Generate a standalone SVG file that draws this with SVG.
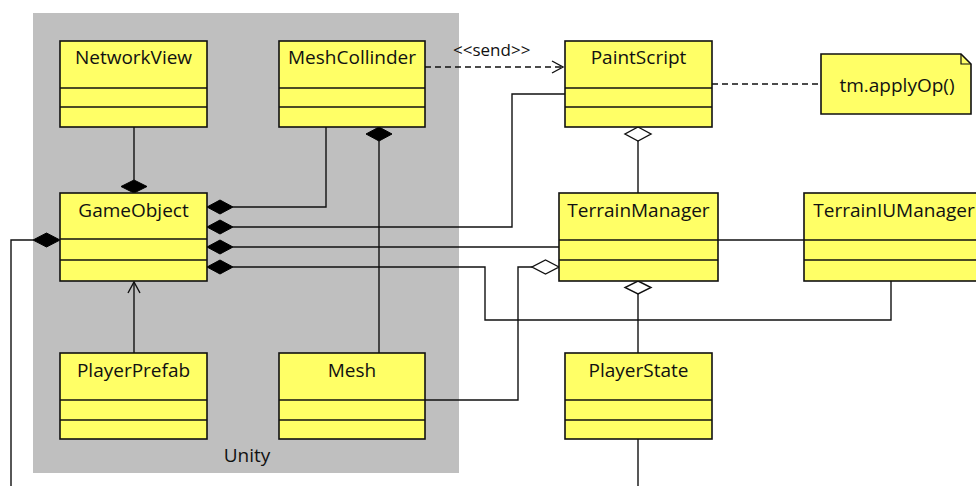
<svg xmlns="http://www.w3.org/2000/svg" width="976" height="486" viewBox="0 0 976 486">
  <style>
    .cls { fill: #FFFF66; stroke: #111; stroke-width: 1.6; }
    .div { stroke: #111; stroke-width: 1.6; }
    .name { font-family: "Open Sans", "Liberation Sans", sans-serif; font-size: 19px; fill: #111; text-anchor: middle; }
    .lbl { font-family: "Open Sans", "Liberation Sans", sans-serif; font-size: 17px; fill: #111; }
    .ln { fill: none; stroke: #111; stroke-width: 1.4; }
    .dash { fill: none; stroke: #111; stroke-width: 1.4; stroke-dasharray: 6 4; }
    .comp { fill: #000; stroke: #000; stroke-width: 1; }
    .agg { fill: #fff; stroke: #111; stroke-width: 1.4; }
  </style>
  <defs>
    <marker id="open" markerWidth="14" markerHeight="14" refX="12" refY="7" orient="auto" markerUnits="userSpaceOnUse">
      <path d="M1,1 L12,7 L1,13" fill="none" stroke="#111" stroke-width="1.4"/>
    </marker>
  </defs>

  <rect width="976" height="486" fill="#fff"/>

  <!-- Unity package -->
  <g id="unity">
    <rect x="33" y="13" width="426" height="460" fill="#BFBFBF"/>
    <text x="247" y="462" class="name">Unity</text>
  </g>

  <!-- connectors -->
  <g id="connectors">
    <!-- NetworkView -> GameObject -->
    <path class="ln" d="M134,127 V180"/>
    <path class="comp" d="M134,180 L147,186.5 L134,193 L121,186.5 Z"/>
    <!-- MeshCollinder -> GameObject -->
    <path class="ln" d="M326,127 V207 H233"/>
    <path class="comp" d="M207,207 L220,200 L233,207 L220,214 Z"/>
    <!-- PaintScript -> GameObject -->
    <path class="ln" d="M565,94 H512 V227 H233"/>
    <path class="comp" d="M207,227 L220,220 L233,227 L220,234 Z"/>
    <!-- TerrainManager -> GameObject -->
    <path class="ln" d="M559,247 H233"/>
    <path class="comp" d="M207,247 L220,240 L233,247 L220,254 Z"/>
    <!-- TerrainIUManager -> GameObject -->
    <path class="ln" d="M891,281 V320 H485 V267 H233"/>
    <path class="comp" d="M207,267 L220,260 L233,267 L220,274 Z"/>
    <!-- GameObject left composition, leaving the page -->
    <path class="ln" d="M33,240 H11 V486"/>
    <path class="comp" d="M60,240 L46.5,233 L33,240 L46.5,247 Z"/>
    <!-- PlayerPrefab -> GameObject -->
    <path class="ln" d="M134,353 V282" marker-end="url(#open)"/>
    <!-- Mesh -> MeshCollinder -->
    <path class="ln" d="M379,141 V353"/>
    <path class="comp" d="M379,127 L392,134 L379,141 L366,134 Z"/>
    <!-- Mesh -> TerrainManager -->
    <path class="ln" d="M425,400 H518 V267 H532"/>
    <path class="agg" d="M559,267 L545.5,260 L532,267 L545.5,274 Z"/>
    <!-- send dependency -->
    <path class="dash" d="M425,67 H563" marker-end="url(#open)"/>
    <text x="453" y="56" class="lbl">&lt;&lt;send&gt;&gt;</text>
    <!-- note anchor -->
    <path class="dash" d="M712,84 H821"/>
    <!-- TerrainManager -> PaintScript -->
    <path class="ln" d="M638,141 V193"/>
    <path class="agg" d="M638,127 L651,134 L638,141 L625,134 Z"/>
    <!-- TerrainManager -> TerrainIUManager -->
    <path class="ln" d="M718,240 H804"/>
    <!-- PlayerState -> TerrainManager -->
    <path class="ln" d="M638,294 V353"/>
    <path class="agg" d="M638,281 L651,287.5 L638,294 L625,287.5 Z"/>
    <!-- PlayerState downwards -->
    <path class="ln" d="M638,439 V486"/>
  </g>

  <g id="NetworkView">
    <rect class="cls" x="60" y="41" width="147" height="86"/>
    <line class="div" x1="60" y1="88" x2="207" y2="88"/>
    <line class="div" x1="60" y1="107" x2="207" y2="107"/>
    <text class="name" x="133.5" y="64">NetworkView</text>
  </g>

  <g id="MeshCollinder">
    <rect class="cls" x="279" y="41" width="146" height="86"/>
    <line class="div" x1="279" y1="88" x2="425" y2="88"/>
    <line class="div" x1="279" y1="107" x2="425" y2="107"/>
    <text class="name" x="352" y="64">MeshCollinder</text>
  </g>

  <g id="GameObject">
    <rect class="cls" x="60" y="193" width="147" height="88"/>
    <line class="div" x1="60" y1="239" x2="207" y2="239"/>
    <line class="div" x1="60" y1="260" x2="207" y2="260"/>
    <text class="name" x="133.5" y="217">GameObject</text>
  </g>

  <g id="PlayerPrefab">
    <rect class="cls" x="60" y="353" width="147" height="86"/>
    <line class="div" x1="60" y1="400" x2="207" y2="400"/>
    <line class="div" x1="60" y1="420" x2="207" y2="420"/>
    <text class="name" x="133.5" y="377">PlayerPrefab</text>
  </g>

  <g id="Mesh">
    <rect class="cls" x="279" y="353" width="146" height="86"/>
    <line class="div" x1="279" y1="400" x2="425" y2="400"/>
    <line class="div" x1="279" y1="420" x2="425" y2="420"/>
    <text class="name" x="352" y="377">Mesh</text>
  </g>

  <g id="PaintScript">
    <rect class="cls" x="565" y="41" width="147" height="86"/>
    <line class="div" x1="565" y1="88" x2="712" y2="88"/>
    <line class="div" x1="565" y1="107" x2="712" y2="107"/>
    <text class="name" x="638.5" y="64">PaintScript</text>
  </g>

  <g id="note">
    <path class="cls" d="M821,54 H961 L971,64 V114 H821 Z"/>
    <path d="M961,54 V64 H971" fill="none" stroke="#111" stroke-width="1.2"/>
    <text class="name" x="897" y="92">tm.applyOp()</text>
  </g>

  <g id="TerrainManager">
    <rect class="cls" x="559" y="193" width="159" height="88"/>
    <line class="div" x1="559" y1="240" x2="718" y2="240"/>
    <line class="div" x1="559" y1="260" x2="718" y2="260"/>
    <text class="name" x="638.5" y="217">TerrainManager</text>
  </g>

  <g id="TerrainIUManager">
    <rect class="cls" x="804" y="193" width="180" height="88"/>
    <line class="div" x1="804" y1="240" x2="984" y2="240"/>
    <line class="div" x1="804" y1="260" x2="984" y2="260"/>
    <text class="name" x="894" y="217">TerrainIUManager</text>
  </g>

  <g id="PlayerState">
    <rect class="cls" x="565" y="353" width="147" height="86"/>
    <line class="div" x1="565" y1="400" x2="712" y2="400"/>
    <line class="div" x1="565" y1="420" x2="712" y2="420"/>
    <text class="name" x="638.5" y="377">PlayerState</text>
  </g>
</svg>
